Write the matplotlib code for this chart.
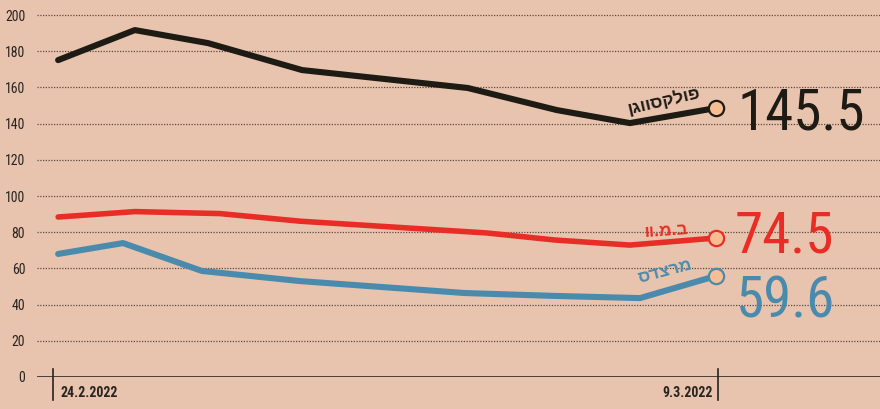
import matplotlib
matplotlib.use("Agg")
import matplotlib.pyplot as plt
from matplotlib import font_manager
from matplotlib.transforms import blended_transform_factory

# ---- data (days since 24.2.2022) -------------------------------------------
vw_x = [0.1, 1.6, 3.03, 4.87, 8.11, 9.85, 11.28, 12.96]
vw_y = [175.1, 191.7, 184.5, 169.6, 159.7, 147.5, 140.3, 148.6]

bmw_x = [0.1, 1.6, 3.26, 4.83, 8.48, 9.81, 11.28, 12.96]
bmw_y = [88.4, 91.4, 90.3, 86.1, 79.6, 75.7, 72.9, 76.8]

merc_x = [0.1, 1.37, 2.91, 4.83, 8.05, 9.81, 11.48, 12.96]
merc_y = [68.0, 74.0, 58.6, 53.0, 46.4, 44.8, 43.6, 55.8]

names = ["פולקסווגן", "ב.מ.וו", "מרצדס"]
last_values = ["145.5", "74.5", "59.6"]
date_labels = ["24.2.2022", "9.3.2022"]
date_ticks = [0, 13]
y_ticks = list(range(0, 201, 20))

BG = "#E8C4AE"
BLACK = "#1E1A14"
RED = "#E82D26"
BLUE = "#4A8BAD"
PEACH = "#F7BE93"
GRID = "#5A4A40"

installed = {f.name for f in font_manager.fontManager.ttflist}
narrow = next((f for f in ["Liberation Sans Narrow", "Roboto Condensed",
                           "DejaVu Sans Condensed", "Liberation Sans"]
               if f in installed), "DejaVu Sans")
hebrew = "Liberation Sans" if "Liberation Sans" in installed else "DejaVu Sans"

fig = plt.figure(figsize=(8.8, 4.09), dpi=100, facecolor=BG)
ax = fig.add_axes([37 / 880, 1 - 377 / 409, 1 - 37 / 880, 371 / 409])
ax.set_facecolor(BG)
ax.set_xlim(-0.313, 16.17)
ax.set_ylim(0, 205)
for s in ax.spines.values():
    s.set_visible(False)

for v in y_ticks[1:]:
    ax.axhline(v, color=GRID, lw=0.9, ls=(0, (1, 1.2)), zorder=1)
ax.axhline(0, color="#3A3530", lw=1.3, zorder=2)

ax.set_yticks(y_ticks)
ax.set_yticklabels([str(v) for v in y_ticks], fontsize=10, family=narrow,
                   color="#2A2420")
ax.tick_params(axis="y", length=0, pad=8.5)
ax.set_xticks([])

trans = blended_transform_factory(ax.transData, ax.transAxes)
for d in date_ticks:
    ax.plot([d, d], [0.0216, -0.062], transform=trans, color="#2A2420",
            lw=1.2, clip_on=False)
ax.text(date_ticks[0] + 0.14, -0.042, date_labels[0], transform=trans,
        ha="left", va="center", fontsize=10, fontweight="bold",
        family=narrow, color="#2A2420")
ax.text(date_ticks[1] - 0.1, -0.042, date_labels[1], transform=trans,
        ha="right", va="center", fontsize=10, fontweight="bold",
        family=narrow, color="#2A2420")

series = [(vw_x, vw_y, BLACK, 4.4), (bmw_x, bmw_y, RED, 4.0),
          (merc_x, merc_y, BLUE, 4.4)]
for xs, ys, c, lw in series:
    ax.plot(xs, ys, color=c, lw=lw, solid_capstyle="round",
            solid_joinstyle="round", zorder=3)
    ax.plot(xs[-1], ys[-1], "o", ms=11, mfc=PEACH, mec=c, mew=1.6, zorder=4)

# hebrew names along the lines (reversed for left-to-right rendering)
label_pos = [(11.95, 152.5, 13), (11.98, 80.5, 4), (11.97, 58.5, 15)]
for (lx, ly, rot), name, (_, _, c, _) in zip(label_pos, names, series):
    ax.text(lx, ly, name[::-1], color=c, fontsize=12.5, fontweight="bold",
            family=hebrew, rotation=rot, rotation_mode="anchor",
            ha="center", va="center", zorder=5)

# big final values
val_pos = [(13.38, 145.5), (13.33, 77.5), (13.36, 41.5)]
for (vx, vy), txt, (_, _, c, _) in zip(val_pos, last_values, series):
    ax.text(vx, vy, txt, color=c, fontsize=41, family=narrow,
            ha="left", va="center", zorder=5)

fig.savefig("out.png", dpi=100, facecolor=BG)
